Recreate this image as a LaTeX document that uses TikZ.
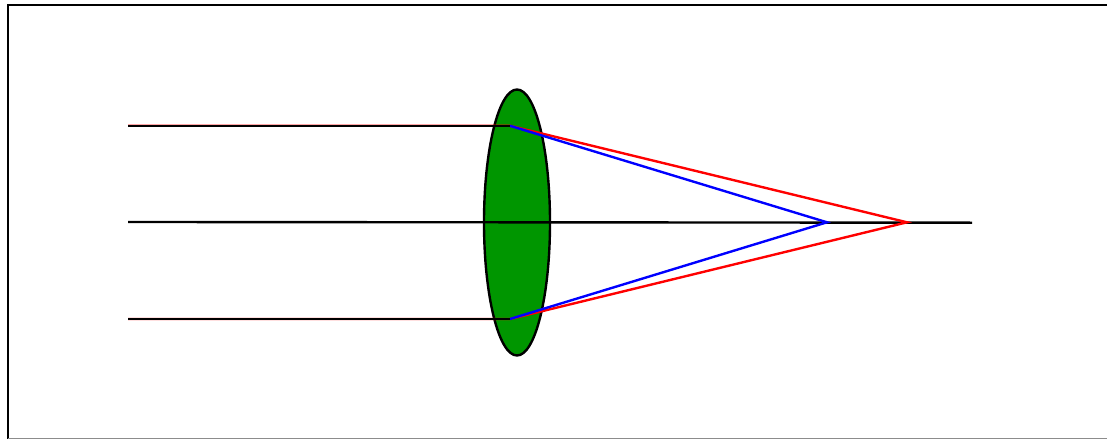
\documentclass[tikz,border=0pt]{standalone}
\usetikzlibrary{shapes.geometric}
\tikzset{
  ray/.style={line width=2.4pt,line join=miter},
  lens/.style={ellipse,draw=black,fill=lensgreen,line width=2.4pt,inner sep=0pt,minimum width=66bp,minimum height=266bp},
  frameline/.style={draw=black,line width=2.6pt}
}
\definecolor{lensgreen}{RGB}{0,150,0}
\begin{document}
\begin{tikzpicture}[x=1bp,y=-1bp]
\useasboundingbox (0,0) rectangle (1107,439);
\clip (0,0) rectangle (1107,439);
\fill[white] (0,0) rectangle (1107,439);
\draw[frameline] (8,442) rectangle (1125,5);
\draw[black!45,line width=1.2pt] (8,438.5) -- (1125,438.5);
\node[lens] (lensbody) at (517,222.5) {};
\coordinate (topstart) at (128,125.8);
\coordinate (topbend) at (510,125.8);
\coordinate (midstart) at (128,222);
\coordinate (midend) at (972,222.7);
\coordinate (botstart) at (128,319);
\coordinate (botbend) at (510,319);
\coordinate (redfocus) at (907,222.3);
\coordinate (bluefocus) at (827,222.3);
\draw[ray,black] (midstart) -- (midend);
\draw[ray,red] (topstart) -- (topbend) -- (redfocus) -- (botbend) -- (botstart);
\draw[ray,blue] (topbend) -- (bluefocus) -- (botbend);
\draw[ray,black,line width=2.1pt] (topstart) -- (topbend);
\draw[ray,black,line width=2.1pt] (botstart) -- (botbend);
\end{tikzpicture}
\end{document}
